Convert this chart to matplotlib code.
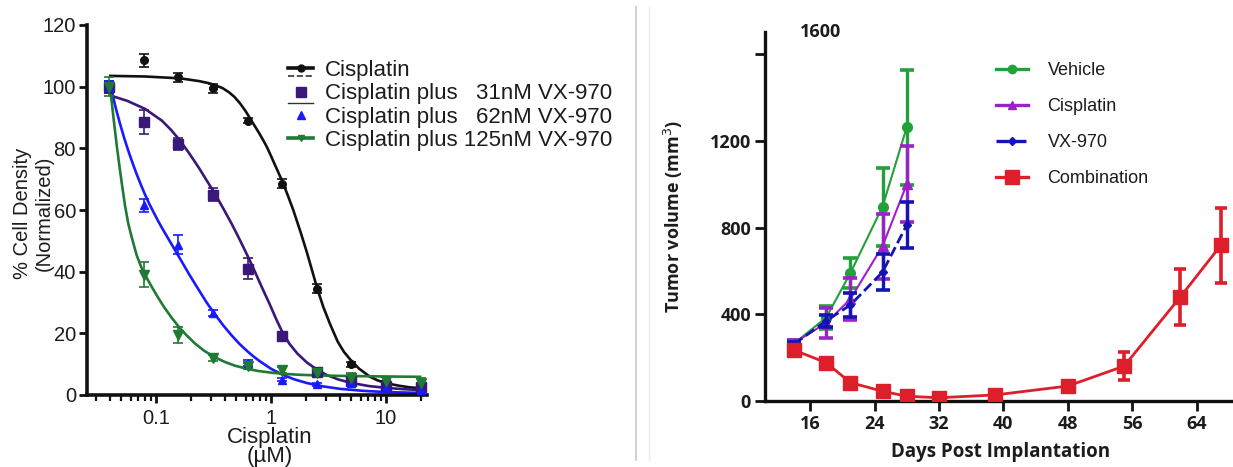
import numpy as np
import matplotlib
matplotlib.use("Agg")
import matplotlib.pyplot as plt
from matplotlib.lines import Line2D
from matplotlib.legend_handler import HandlerLine2D
from matplotlib.ticker import LogLocator, NullFormatter, FixedLocator

# ---------------- Left panel data ----------------
conc = [0.039, 0.078, 0.156, 0.3125, 0.625, 1.25, 2.5, 5, 10, 20]
cis_pts = [100, 108.5, 103, 99.5, 89, 68.5, 34.5, 10, 4, 3]
cis_err = [1.5, 2, 1.5, 1.5, 0.8, 1.5, 1.5, 0.8, 0.5, 0.5]
c31_pts = [100, 88.5, 81.5, 65, 41, 19, 7.5, 4.5, 3, 2.5]
c31_err = [2, 4, 2, 2, 3.5, 1, 1, 0.5, 0.5, 0.5]
c62_pts = [100, 61.5, 48.8, 26.5, 10.5, 5, 3.5, 4, 2.5, 1.5]
c62_err = [2, 2, 3, 1, 1, 0.5, 0.5, 0.5, 0.5, 0.5]
c125_pts = [100, 39, 19.5, 12, 9.5, 8, 7, 5.5, 4.5, 4]
c125_err = [3, 4, 2.5, 1, 1, 1, 1, 1.5, 1.5, 1.5]

# fitted curves (concentration in uM, % density)
cis_fit_x = [0.04, 0.08, 0.162, 0.237, 0.29, 0.326, 0.38, 0.43, 0.48, 0.537, 0.6, 0.657,
             0.72, 0.78, 0.85, 0.918, 1.0, 1.1, 1.24, 1.4, 1.56, 1.8, 2.04, 2.25, 2.5,
             2.85, 3.26, 3.8, 4.3, 4.86, 5.8, 7.26, 8.5, 10.1, 13, 16, 19.8]
cis_fit_y = [103.5, 103.3, 102.7, 101.8, 101.1, 100.5, 99.5, 98.2, 96.7, 94.6, 92.1, 89.7,
             87.3, 85.2, 82.8, 80.5, 77.5, 74, 69.7, 64.7, 60, 53, 46.5, 41, 35,
             28.5, 23, 17.3, 14, 11.6, 8.6, 5.9, 4.7, 3.8, 3.0, 2.5, 2.2]
c31_fit_x = [0.0412, 0.0562, 0.0802, 0.1122, 0.1349, 0.1618, 0.195, 0.2366, 0.2754,
             0.3192, 0.3802, 0.455, 0.537, 0.635, 0.7278, 0.8356, 0.9772, 1.0965, 1.2388,
             1.4454, 1.6982, 2.0417, 2.5119, 3.0479, 3.8019, 4.8641, 7.0795, 10.14,
             14.13, 19.77]
c31_fit_y = [97.0, 95.4, 92.8, 89.0, 86.0, 82.5, 78.3, 73.6, 69.6, 65.8, 60.8, 55.5,
             50.2, 44.6, 39.8, 34.8, 29.3, 25.0, 20.8, 16.6, 13.4, 10.6, 8.2, 6.5, 5.1,
             4.0, 2.9, 2.3, 1.9, 1.6]
c62_fit_x = [0.0412, 0.0447, 0.0486, 0.0528, 0.0574, 0.0624, 0.0679, 0.0738, 0.0802,
             0.0871, 0.0948, 0.1030, 0.1122, 0.1349, 0.1618, 0.195, 0.2333, 0.2754,
             0.326, 0.3855, 0.455, 0.537, 0.635, 0.7145, 0.8017, 1.0, 1.239, 1.585,
             2.042, 2.818, 3.981, 6.31, 8.87, 12.59, 19.77]
c62_fit_y = [98.5, 93, 88, 83.4, 79.2, 75.3, 71.6, 68.2, 65, 62.1, 59.4, 56.8, 54.3,
             49.2, 44.2, 39.0, 34.3, 30.0, 26.1, 22.5, 19.3, 16.4, 13.9, 12.3, 10.9,
             8.5, 6.7, 5.1, 3.9, 2.8, 2.0, 1.35, 1.05, 0.85, 0.7]
c125_fit_x = [0.0398, 0.0427, 0.0455, 0.0479, 0.0504, 0.0537, 0.0574, 0.0624, 0.0679,
              0.0741, 0.0802, 0.0891, 0.1014, 0.1175, 0.1371, 0.1618, 0.1862, 0.2183,
              0.263, 0.326, 0.398, 0.486, 0.617, 0.771, 1.0, 1.246, 1.778, 2.818,
              4.864, 10.0, 19.77]
c125_fit_y = [100, 89.8, 81, 74.6, 68.6, 61.5, 55.5, 50.2, 45.3, 41.6, 39.0, 35.9,
              32.3, 28.5, 25.0, 21.6, 19.2, 16.7, 14.3, 12.2, 10.7, 9.5, 8.5, 7.8,
              7.25, 6.9, 6.55, 6.3, 6.15, 6.0, 5.9]

left_labels = ["Cisplatin", "Cisplatin plus   31nM VX-970",
               "Cisplatin plus   62nM VX-970", "Cisplatin plus 125nM VX-970"]

# ---------------- Right panel data ----------------
days_ctrl = [14, 18, 21, 25, 28]
vehicle = [265, 385, 590, 897, 1263]
vehicle_err = [15, 55, 68, 180, 265]
cispl = [268, 360, 470, 715, 1000]
cispl_err = [15, 70, 96, 150, 175]
vx970 = [262, 370, 443, 595, 812]
vx970_err = [10, 27, 54, 85, 108]
days_combo = [14, 18, 21, 25, 28, 32, 39, 48, 55, 62, 67]
combo = [235, 177, 85, 45, 22, 15, 28, 69, 161, 481, 718]
combo_err = [20, 15, 15, 10, 8, 5, 8, 20, 65, 130, 172]
right_labels = ["Vehicle", "Cisplatin", "VX-970", "Combination"]

# ---------------- styles ----------------
LF = "Liberation Sans"
BF = "Open Sans"
txt = "#1c1c1c"
k_col, p_col, b_col, g_col = "#111111", "#3a1878", "#1a1aff", "#1f7a33"
rg, rp, rb, rr = "#22a03a", "#9a22c8", "#1414b4", "#dc1f2a"

fig = plt.figure(figsize=(12.33, 4.67), dpi=100)

# separator lines
fig.add_artist(Line2D([636 / 1233] * 2, [1 - 7 / 467, 1 - 460 / 467], color="#c8c8c8", lw=1.2))
fig.add_artist(Line2D([649 / 1233] * 2, [1 - 7 / 467, 1 - 460 / 467], color="#ececec", lw=1.0))

# ================= LEFT =================
ax = fig.add_axes([87 / 1233, 72 / 467, 340 / 1233, 370 / 467])
ax.set_xscale("log")
ax.set_xlim(0.0251, 22.7)
ax.set_ylim(0, 120)

series = [
    (cis_pts, cis_err, cis_fit_x, cis_fit_y, k_col, "o", 5.5),
    (c31_pts, c31_err, c31_fit_x, c31_fit_y, p_col, "s", 6.5),
    (c62_pts, c62_err, c62_fit_x, c62_fit_y, b_col, "^", 6),
    (c125_pts, c125_err, c125_fit_x, c125_fit_y, g_col, "v", 6.5),
]
for pts, err, fx, fy, col, mk, ms in series:
    ax.plot(fx, fy, color=col, lw=1.9, zorder=2, solid_joinstyle="round")
    ax.errorbar(conc, pts, yerr=err, fmt=mk, color=col, ms=ms, capsize=3.5,
                elinewidth=1.2, capthick=1.2, zorder=3)

for s in ["top", "right"]:
    ax.spines[s].set_visible(False)
for s in ["left", "bottom"]:
    ax.spines[s].set_linewidth(2.6)
    ax.spines[s].set_color("#111111")
ax.set_yticks([0, 20, 40, 60, 80, 100, 120])
ax.xaxis.set_major_locator(FixedLocator([0.1, 1, 10]))
ax.set_xticklabels(["0.1", "1", "10"])
ax.xaxis.set_minor_locator(LogLocator(base=10, subs=np.arange(2, 10)))
ax.xaxis.set_minor_formatter(NullFormatter())
ax.tick_params(axis="both", which="major", length=6, width=2, direction="out",
               labelsize=14.5, colors="#111111", labelcolor=txt, pad=2)
ax.tick_params(axis="x", which="major", pad=4)
ax.tick_params(axis="x", which="minor", length=4, width=1.6, color="#111111")
for lab in ax.get_xticklabels() + ax.get_yticklabels():
    lab.set_fontfamily(LF)

ax.set_ylabel("% Cell Density\n(Normalized)", fontsize=14.5, family=LF, color=txt,
              linespacing=1.15, va="center", ha="center")
ax.yaxis.set_label_coords(-0.157, 0.49)
ax.set_xlabel("Cisplatin\n(\u00b5M)", fontsize=16, family=LF, color=txt,
              linespacing=0.9, va="center", ha="center")
ax.xaxis.set_label_coords(0.538, -0.141)


class ExtraLineHandler(HandlerLine2D):
    def __init__(self, dy=5.0, ls="--", lw=1.3, color="k", **kw):
        super().__init__(**kw)
        self.dy, self.ls, self.lw2, self.col2 = dy, ls, lw, color

    def create_artists(self, legend, orig_handle, xdescent, ydescent, width, height,
                       fontsize, trans):
        arts = super().create_artists(legend, orig_handle, xdescent, ydescent, width,
                                      height, fontsize, trans)
        yc = (height - ydescent) / 2 - self.dy
        extra = Line2D([-xdescent, -xdescent + width], [yc, yc], ls=self.ls,
                       lw=self.lw2, color=self.col2, transform=trans)
        return list(arts) + [extra]


h0 = Line2D([], [], color=k_col, lw=2.6, marker="o", ms=5)
h1 = Line2D([], [], color=p_col, lw=0, marker="s", ms=6.5)
h2 = Line2D([], [], color=b_col, lw=0, marker="^", ms=5.5)
h3 = Line2D([], [], color=g_col, lw=2.6, marker="v", ms=4.5)
leg = ax.legend([h0, h1, h2, h3], left_labels, loc="upper left",
                bbox_to_anchor=(0.592, 0.905), frameon=False,
                prop={"family": LF, "size": 16}, handlelength=1.1,
                handletextpad=0.55, labelspacing=0.1, borderpad=0, borderaxespad=0,
                handler_map={h0: ExtraLineHandler(dy=5.5, ls="--", lw=1.2, color="#333333"),
                             h1: ExtraLineHandler(dy=8.0, ls="-", lw=1.0, color="#333333")})
for t in leg.get_texts():
    t.set_color(txt)

# ================= RIGHT =================
ax2 = fig.add_axes([765 / 1233, 66 / 467, 467 / 1233, 369 / 467])
ax2.set_xlim(10.4, 68.4)
ax2.set_ylim(0, 1703)

ax2.errorbar(days_ctrl, vehicle, yerr=vehicle_err, fmt="-o", color=rg, ms=7,
             lw=1.5, elinewidth=2.4, capsize=5, capthick=2.6, zorder=3)
ax2.errorbar(days_ctrl, cispl, yerr=cispl_err, fmt="-^", color=rp, ms=6.5,
             lw=1.5, elinewidth=2.4, capsize=5, capthick=2.6, zorder=4)
ax2.errorbar(days_ctrl, vx970, yerr=vx970_err, fmt="--D", color=rb, ms=4.5,
             lw=2.0, elinewidth=2.4, capsize=5, capthick=2.6, zorder=5)
ax2.errorbar(days_combo, combo, yerr=combo_err, fmt="-s", color=rr, ms=10.5,
             lw=2.0, elinewidth=2.6, capsize=4.5, capthick=2.6, zorder=6)

for s in ["top", "right"]:
    ax2.spines[s].set_visible(False)
for s in ["left", "bottom"]:
    ax2.spines[s].set_linewidth(2.4)
    ax2.spines[s].set_color("#111111")
ax2.set_xticks([16, 24, 32, 40, 48, 56, 64])
ax2.set_yticks([0, 400, 800, 1200, 1600])
ax2.set_yticklabels(["0", "400", "800", "1200", ""])
ax2.tick_params(axis="both", length=7, width=2, direction="out", labelsize=13,
                colors="#111111", labelcolor=txt, pad=3)
for lab in ax2.get_xticklabels() + ax2.get_yticklabels():
    lab.set_fontfamily(BF)
    lab.set_fontweight("bold")
ax2.text(0.118, 1.0, "1600", transform=ax2.transAxes, ha="center", va="center",
         fontsize=13, family=BF, fontweight="bold", color=txt)

ax2.set_ylabel("Tumor volume (mm$^3$)", fontsize=13, family=BF, fontweight="bold",
               color=txt, va="center", ha="center")
ax2.yaxis.set_label_coords(-0.197, 0.5)
ax2.set_xlabel("Days Post Implantation", fontsize=13.5, family=BF, fontweight="bold",
               color=txt, va="center", ha="center")
ax2.xaxis.set_label_coords(0.505, -0.138)

r0 = Line2D([], [], color=rg, lw=2.4, marker="o", ms=6)
r1 = Line2D([], [], color=rp, lw=2.4, marker="^", ms=6)
r2 = Line2D([], [], color=rb, lw=2.4, ls="--", marker="D", ms=4.5)
r3 = Line2D([], [], color=rr, lw=2.4, marker="s", ms=10)
leg2 = ax2.legend([r0, r1, r2, r3], right_labels, loc="upper left",
                  bbox_to_anchor=(0.495, 0.919), frameon=False,
                  prop={"family": LF, "size": 13}, handlelength=1.75,
                  handletextpad=1.1, labelspacing=1.06, borderpad=0, borderaxespad=0)
for t in leg2.get_texts():
    t.set_color(txt)

fig.savefig("out.png", dpi=100)
